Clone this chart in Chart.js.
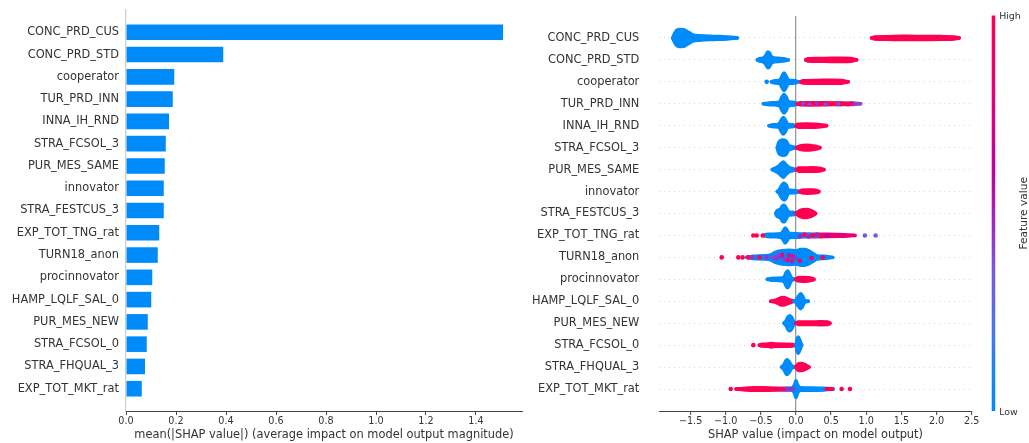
<!DOCTYPE html>
<html>
<head>
<meta charset="utf-8">
<script src="https://cdn.jsdelivr.net/npm/chart.js@4.4.1/dist/chart.umd.min.js"></script>
<style>
  html, body { margin: 0; padding: 0; background: #ffffff; }
  #wrap { position: relative; width: 1029px; height: 443px; overflow: hidden; background: #ffffff; }
  #wrap canvas { position: absolute; top: 0; }
  #bar { left: 0; }
  #swarm { left: 500px; }
</style>
</head>
<body>
<div id="wrap">
  <canvas id="bar" width="535" height="443"></canvas>
  <canvas id="swarm" width="529" height="443"></canvas>
</div>
<script>
// ---- data -------------------------------------------------------------
const features = ['CONC_PRD_CUS', 'CONC_PRD_STD', 'cooperator', 'TUR_PRD_INN', 'INNA_IH_RND',
  'STRA_FCSOL_3', 'PUR_MES_SAME', 'innovator', 'STRA_FESTCUS_3', 'EXP_TOT_TNG_rat',
  'TURN18_anon', 'procinnovator', 'HAMP_LQLF_SAL_0', 'PUR_MES_NEW', 'STRA_FCSOL_0',
  'STRA_FHQUAL_3', 'EXP_TOT_MKT_rat'];

// mean(|SHAP value|) per feature
const meanAbsShap = [1.508, 0.389, 0.193, 0.187, 0.172, 0.159, 0.155, 0.151, 0.151,
  0.133, 0.127, 0.105, 0.101, 0.087, 0.083, 0.076, 0.063];

const barTicks = [0, 0.2, 0.4, 0.6, 0.8, 1.0, 1.2, 1.4];
const swarmTicks = [-1.5, -1.0, -0.5, 0, 0.5, 1.0, 1.5, 2.0, 2.5];

// Beeswarm rows. Each blob is a run of SHAP values sharing one feature-value
// tone (0 = low, 1 = high); outline = [SHAP value, swarm spread in rows].
// Loose dots = [SHAP value, row offset, tone].
const swarmConcPrdCus = {
  blobs: [
    { tone: 0, outline: [[-1.755, 0], [-1.735, 0.15], [-1.70, 0.34], [-1.66, 0.39], [-1.60, 0.38], [-1.555, 0.3], [-1.51, 0.22], [-1.46, 0.13], [-1.37, 0.1], [-1.18, 0.07], [-0.99, 0.045], [-0.88, 0.02], [-0.835, 0]] },
    { tone: 1, outline: [[1.076, 0], [1.12, 0.045], [1.3, 0.06], [1.5, 0.075], [1.7, 0.07], [1.9, 0.07], [2.1, 0.06], [2.25, 0.045], [2.323, 0]] }
  ],
  dots: []
};
const swarmConcPrdStd = {
  blobs: [
    { tone: 0, outline: [[-0.55, 0], [-0.52, 0.05], [-0.47, 0.08], [-0.43, 0.2], [-0.40, 0.36], [-0.38, 0.32], [-0.35, 0.15], [-0.31, 0.09], [-0.24, 0.07], [-0.16, 0.04], [-0.11, 0]] },
    { tone: 1, outline: [[0.138, 0], [0.17, 0.05], [0.3, 0.065], [0.5, 0.07], [0.65, 0.075], [0.78, 0.065], [0.863, 0]] }
  ],
  dots: []
};
const swarmCooperator = {
  blobs: [
    { tone: 0, outline: [[-0.35, 0], [-0.3, 0.05], [-0.23, 0.08], [-0.2, 0.25], [-0.17, 0.4], [-0.14, 0.25], [-0.11, 0.08], [-0.05, 0.06], [0.0, 0.04], [0.035, 0]] },
    { tone: 1, outline: [[0.066, 0], [0.1, 0.055], [0.3, 0.065], [0.5, 0.07], [0.65, 0.06], [0.744, 0]] }
  ],
  dots: [[-0.417, 0, 0]]
};
const swarmTurPrdInn = {
  blobs: [
    { tone: 0, outline: [[-0.465, 0], [-0.4, 0.03], [-0.3, 0.05], [-0.23, 0.1], [-0.2, 0.3], [-0.17, 0.42], [-0.14, 0.3], [-0.11, 0.1], [-0.05, 0.07], [0.01, 0.03], [0.04, 0]] },
    { tone: 0.4, outline: [[0.5, 0], [0.58, 0.03], [0.7, 0.035], [0.82, 0.03], [0.92, 0]] },
    { tone: 1, outline: [[0.02, 0], [0.06, 0.045], [0.2, 0.05], [0.4, 0.045], [0.55, 0.035], [0.66, 0.02], [0.7, 0]] }
  ],
  dots: [[0.1, -0.02, 0.4], [0.19, 0.03, 0.4], [0.3, -0.03, 0.45], [0.42, 0.02, 0.4],
    [0.6, 0, 0.4], [0.74, 0.02, 1], [0.79, -0.01, 1]]
};
const swarmInnaIhRnd = {
  blobs: [
    { tone: 0, outline: [[-0.384, 0], [-0.33, 0.04], [-0.25, 0.06], [-0.21, 0.25], [-0.18, 0.38], [-0.15, 0.25], [-0.12, 0.07], [-0.05, 0.045], [0.0, 0]] },
    { tone: 1, outline: [[0.0, 0], [0.03, 0.07], [0.15, 0.075], [0.25, 0.07], [0.35, 0.05], [0.436, 0]] }
  ],
  dots: []
};
const swarmStraFcsol3 = {
  blobs: [
    { tone: 0, outline: [[-0.266, 0], [-0.25, 0.2], [-0.22, 0.32], [-0.18, 0.35], [-0.14, 0.3], [-0.11, 0.12], [-0.06, 0.05], [0.01, 0]] },
    { tone: 1, outline: [[0.01, 0], [0.04, 0.06], [0.1, 0.1], [0.17, 0.11], [0.24, 0.08], [0.3, 0.05], [0.341, 0]] }
  ],
  dots: []
};
const swarmPurMesSame = {
  blobs: [
    { tone: 0, outline: [[-0.337, 0], [-0.3, 0.06], [-0.25, 0.15], [-0.2, 0.3], [-0.18, 0.35], [-0.15, 0.25], [-0.1, 0.1], [-0.05, 0.05], [0.0, 0]] },
    { tone: 1, outline: [[0.005, 0], [0.04, 0.075], [0.15, 0.075], [0.22, 0.08], [0.3, 0.075], [0.36, 0.045], [0.398, 0]] }
  ],
  dots: []
};
const swarmInnovator = {
  blobs: [
    { tone: 0, outline: [[-0.266, 0], [-0.24, 0.08], [-0.2, 0.3], [-0.17, 0.38], [-0.14, 0.3], [-0.11, 0.07], [-0.02, 0.05], [0.057, 0]] },
    { tone: 1, outline: [[0.05, 0], [0.09, 0.06], [0.16, 0.075], [0.24, 0.07], [0.3, 0.04], [0.327, 0]] }
  ],
  dots: []
};
const swarmStraFestcus3 = {
  blobs: [
    { tone: 0, outline: [[-0.289, 0], [-0.27, 0.12], [-0.22, 0.2], [-0.19, 0.35], [-0.17, 0.38], [-0.15, 0.3], [-0.1, 0.07], [-0.03, 0.05], [0.0, 0]] },
    { tone: 1, outline: [[0.0, 0], [0.03, 0.08], [0.08, 0.16], [0.15, 0.18], [0.22, 0.12], [0.26, 0.05], [0.28, 0]] }
  ],
  dots: []
};
const swarmExpTotTngRat = {
  blobs: [
    { tone: 0.8, outline: [[0.03, 0], [0.1, 0.05], [0.25, 0.055], [0.45, 0.05], [0.6, 0.04], [0.75, 0.02], [0.84, 0]] },
    { tone: 0, outline: [[-0.465, 0], [-0.4, 0.05], [-0.3, 0.06], [-0.22, 0.08], [-0.18, 0.2], [-0.155, 0.34], [-0.13, 0.25], [-0.1, 0.1], [0.0, 0.08], [0.1, 0.06], [0.2, 0.04], [0.32, 0]] }
  ],
  dots: [[-0.607, 0, 1], [-0.56, 0, 1], [-0.474, 0, 1], [0.06, 0.04, 0.5], [0.12, -0.03, 1], [0.18, 0.05, 0.5],
    [0.24, 0, 1], [0.3, -0.04, 0.5], [0.36, 0.03, 1], [0.45, 0, 0.6], [0.98, 0, 0.35], [1.133, 0, 0.35]]
};
const swarmTurn18Anon = {
  blobs: [
    { tone: 0, outline: [[-0.70, 0], [-0.6, 0.05], [-0.45, 0.07], [-0.36, 0.11], [-0.3, 0.22], [-0.2, 0.3], [-0.1, 0.32], [0.0, 0.3], [0.07, 0.36], [0.12, 0.36], [0.18, 0.3], [0.25, 0.16], [0.3, 0.07], [0.4, 0.05], [0.522, 0]] }
  ],
  dots: [[-1.057, 0, 1], [-0.82, 0, 1], [-0.759, 0, 1], [-0.68, 0, 1], [-0.52, 0, 1], [-0.2, -0.12, 1],
    [-0.12, 0.12, 1], [-0.05, -0.05, 1], [0.05, 0.15, 0.9], [0.22, 0.03, 1], [0.38, 0, 1],
    [-0.62, 0, 0.45], [-0.42, 0, 0.45], [-0.28, 0.05, 0.45], [-0.22, -0.05, 0.5], [-0.16, 0.08, 0.45],
    [-0.1, -0.1, 0.5], [-0.06, 0.18, 0.5], [-0.02, 0.02, 0.45], [-0.25, -0.12, 0.4], [-0.33, 0, 0.4]]
};
const swarmProcinnovator = {
  blobs: [
    { tone: 0, outline: [[-0.408, 0], [-0.35, 0.04], [-0.25, 0.05], [-0.17, 0.1], [-0.14, 0.3], [-0.12, 0.38], [-0.1, 0.3], [-0.07, 0.08], [0.0, 0]] },
    { tone: 1, outline: [[0.0, 0], [0.03, 0.07], [0.1, 0.085], [0.17, 0.075], [0.22, 0.05], [0.256, 0]] }
  ],
  dots: []
};
const swarmHampLqlfSal0 = {
  blobs: [
    { tone: 1, outline: [[-0.36, 0], [-0.3, 0.04], [-0.24, 0.12], [-0.2, 0.17], [-0.16, 0.16], [-0.1, 0.08], [-0.03, 0]] },
    { tone: 0, outline: [[-0.03, 0], [0.0, 0.05], [0.04, 0.25], [0.066, 0.34], [0.09, 0.25], [0.12, 0.06], [0.175, 0]] }
  ],
  dots: []
};
const swarmPurMesNew = {
  blobs: [
    { tone: 0, outline: [[-0.171, 0], [-0.14, 0.12], [-0.11, 0.3], [-0.085, 0.34], [-0.06, 0.25], [-0.03, 0.05], [0.0, 0]] },
    { tone: 1, outline: [[0.0, 0], [0.03, 0.055], [0.2, 0.055], [0.35, 0.065], [0.45, 0.06], [0.484, 0]] }
  ],
  dots: []
};
const swarmStraFcsol0 = {
  blobs: [
    { tone: 1, outline: [[-0.522, 0], [-0.48, 0.04], [-0.4, 0.05], [-0.35, 0.08], [-0.3, 0.05], [-0.15, 0.045], [-0.05, 0.035], [-0.014, 0]] },
    { tone: 0, outline: [[0.0, 0], [0.015, 0.25], [0.033, 0.37], [0.05, 0.25], [0.081, 0]] }
  ],
  dots: [[-0.607, 0, 1]]
};
const swarmStraFhqual3 = {
  blobs: [
    { tone: 0, outline: [[-0.204, 0], [-0.17, 0.12], [-0.13, 0.34], [-0.1, 0.25], [-0.06, 0.05], [0.0, 0]] },
    { tone: 1, outline: [[0.0, 0], [0.03, 0.14], [0.07, 0.16], [0.12, 0.12], [0.16, 0.05], [0.185, 0]] }
  ],
  dots: []
};
const swarmExpTotMktRat = {
  blobs: [
    { tone: 0, outline: [[-0.3, 0], [-0.15, 0.03], [-0.05, 0.06], [-0.02, 0.2], [0.0, 0.38], [0.02, 0.2], [0.06, 0.06], [0.2, 0.05], [0.4, 0.04], [0.53, 0]] },
    { tone: 0.45, outline: [[-0.35, 0], [-0.3, 0.03], [-0.2, 0.04], [-0.1, 0.03], [-0.04, 0]] },
    { tone: 1, outline: [[-0.853, 0], [-0.75, 0.03], [-0.6, 0.06], [-0.45, 0.06], [-0.3, 0.04], [-0.18, 0]] }
  ],
  dots: [[-0.929, 0, 1], [0.44, 0, 1], [0.48, 0, 1], [0.507, 0, 1], [0.65, 0, 1], [0.768, 0, 1]]
};

const swarmRows = [swarmConcPrdCus, swarmConcPrdStd, swarmCooperator, swarmTurPrdInn, swarmInnaIhRnd,
  swarmStraFcsol3, swarmPurMesSame, swarmInnovator, swarmStraFestcus3, swarmExpTotTngRat,
  swarmTurn18Anon, swarmProcinnovator, swarmHampLqlfSal0, swarmPurMesNew, swarmStraFcsol0,
  swarmStraFhqual3, swarmExpTotMktRat];

// ---- styling ----------------------------------------------------------
const FONT = "'DejaVu Sans', 'Liberation Sans', sans-serif";
const TEXT = '#333333';
const SHAP_BLUE = '#008bfb';
const AXIS = '#444444';

// low -> high feature value colour ramp
const toneStops = [
  [0, [0, 139, 251]], [0.1, [24, 132, 248]], [0.2, [69, 117, 242]], [0.35, [124, 88, 224]],
  [0.45, [154, 48, 200]], [0.6, [192, 0, 159]], [0.8, [230, 0, 122]], [1, [255, 0, 82]]
];
function toneColor(t) {
  for (let i = 1; i < toneStops.length; i++) {
    const [t1, c1] = toneStops[i];
    if (t <= t1) {
      const [t0, c0] = toneStops[i - 1];
      const f = (t - t0) / (t1 - t0);
      const c = c0.map((v, k) => Math.round(v + (c1[k] - v) * f));
      return `rgb(${c[0]},${c[1]},${c[2]})`;
    }
  }
  const c = toneStops[toneStops.length - 1][1];
  return `rgb(${c[0]},${c[1]},${c[2]})`;
}

Chart.defaults.font.family = FONT;
Chart.defaults.color = TEXT;

const signed = v => (v < 0 ? '\u2212' : '') + Math.abs(v).toFixed(1);
// keep the plot area exactly where the layout padding puts it
const noLabelPadding = s => { s.paddingTop = 0; s.paddingBottom = 0; s.paddingLeft = 0; s.paddingRight = 0; };

// ---- left: mean |SHAP| bars --------------------------------------------
new Chart(document.getElementById('bar'), {
  type: 'bar',
  data: {
    datasets: [{
      data: features.map((f, i) => ({ x: meanAbsShap[i], y: i })),
      backgroundColor: SHAP_BLUE,
      borderWidth: 0,
      barPercentage: 0.7,
      categoryPercentage: 1
    }]
  },
  options: {
    indexAxis: 'y',
    responsive: false,
    animation: false,
    devicePixelRatio: 1,
    layout: { padding: { top: 10, right: 13, bottom: 0, left: 0 } },
    plugins: { legend: { display: false }, tooltip: { enabled: false } },
    scales: {
      x: {
        type: 'linear', min: 0, max: 1.584, offset: false,
        afterBuildTicks: s => { s.ticks = barTicks.map(v => ({ value: v })); },
        afterFit: s => { s.height = 32; noLabelPadding(s); },
        ticks: { callback: v => v.toFixed(1), font: { size: 9.65 }, color: TEXT, padding: 1, maxRotation: 0, autoSkip: false },
        grid: { drawOnChartArea: false, drawTicks: true, tickLength: 4, tickColor: AXIS, tickWidth: 1, offset: false },
        border: { color: AXIS, width: 1 },
        title: {
          display: true,
          text: 'mean(|SHAP value|) (average impact on model output magnitude)',
          font: { size: 11.4 }, color: TEXT, padding: { top: 0, bottom: 1 }
        }
      },
      y: {
        type: 'linear', min: -1, max: 17, reverse: true, offset: false,
        afterBuildTicks: s => { s.ticks = features.map((f, i) => ({ value: i })); },
        afterFit: s => { s.width = 126; noLabelPadding(s); },
        ticks: { callback: v => features[v], font: { size: 11.4 }, color: TEXT, padding: 7, autoSkip: false },
        grid: { display: false, drawTicks: false, offset: false },
        border: { color: '#cccccc', width: 1.2 }
      }
    }
  }
});

// ---- right: SHAP value beeswarm ----------------------------------------
const swarmDatasets = [];
swarmRows.forEach((row, r) => {
  row.blobs.forEach(b => {
    const col = toneColor(b.tone);
    const edge = {
      showLine: true, pointRadius: 0, borderColor: col, backgroundColor: col,
      borderWidth: 3.5, borderCapStyle: 'round', borderJoinStyle: 'round',
      cubicInterpolationMode: 'monotone'
    };
    swarmDatasets.push(Object.assign({}, edge, { data: b.outline.map(([v, s]) => ({ x: v, y: r - s })), fill: false }));
    swarmDatasets.push(Object.assign({}, edge, { data: b.outline.map(([v, s]) => ({ x: v, y: r + s })), fill: '-1' }));
  });
  if (row.dots.length) {
    swarmDatasets.push({
      showLine: false,
      data: row.dots.map(([v, o, t]) => ({ x: v, y: r + o, t })),
      pointRadius: 2.3, pointBorderWidth: 0,
      pointBackgroundColor: c => toneColor(c.raw ? c.raw.t : 0)
    });
  }
});
// later datasets paint on top
swarmDatasets.forEach((d, k) => { d.order = -k; });

const colorBarPlugin = {
  id: 'featureColorBar',
  afterDraw(chart) {
    const { ctx, chartArea } = chart;
    const x = chartArea.right + 20, w = 3.5;
    const top = chartArea.top - 0.5, bottom = chartArea.bottom;
    const g = ctx.createLinearGradient(0, bottom, 0, top);
    toneStops.forEach(([t, c]) => g.addColorStop(t, `rgb(${c[0]},${c[1]},${c[2]})`));
    ctx.save();
    ctx.fillStyle = g;
    ctx.fillRect(x, top, w, bottom - top);
    ctx.fillStyle = TEXT;
    ctx.textAlign = 'left';
    ctx.textBaseline = 'middle';
    ctx.font = `9.4px ${FONT}`;
    ctx.fillText('High', x + 7.5, top + 1);
    ctx.fillText('Low', x + 7.5, bottom + 1.5);
    ctx.translate(x + 33, (top + bottom) / 2);
    ctx.rotate(-Math.PI / 2);
    ctx.textAlign = 'center';
    ctx.font = `10.6px ${FONT}`;
    ctx.fillText('Feature value', 0, 0);
    ctx.restore();
  }
};

new Chart(document.getElementById('swarm'), {
  type: 'scatter',
  data: { datasets: swarmDatasets },
  options: {
    responsive: false,
    animation: false,
    devicePixelRatio: 1,
    layout: { padding: { top: 16, right: 57.3, bottom: 0, left: 0 } },
    plugins: { legend: { display: false }, tooltip: { enabled: false } },
    scales: {
      x: {
        type: 'linear', min: -1.945, max: 2.5,
        afterBuildTicks: s => { s.ticks = swarmTicks.map(v => ({ value: v })); },
        afterFit: s => { s.height = 32; noLabelPadding(s); },
        ticks: { callback: v => signed(v), font: { size: 9.65 }, color: TEXT, padding: 1, maxRotation: 0, autoSkip: false },
        grid: {
          color: c => (c.tick && c.tick.value === 0 ? '#999999' : 'rgba(0,0,0,0)'),
          lineWidth: 1.3, drawOnChartArea: true, drawTicks: true, tickLength: 4, tickColor: AXIS, tickWidth: 1
        },
        border: { color: AXIS, width: 1 },
        title: {
          display: true, text: 'SHAP value (impact on model output)',
          font: { size: 11.4 }, color: TEXT, padding: { top: 0, bottom: 1 }
        }
      },
      y: {
        type: 'linear', min: -1, max: 17, reverse: true,
        afterBuildTicks: s => { s.ticks = features.map((f, i) => ({ value: i })); },
        afterFit: s => { s.width = 159.3; noLabelPadding(s); },
        ticks: { callback: v => features[v], font: { size: 11.4 }, color: TEXT, padding: 20, autoSkip: false },
        grid: { color: '#cccccc', lineWidth: 0.8, drawTicks: false },
        border: { display: false, dash: [1, 4] }
      }
    }
  },
  plugins: [colorBarPlugin]
});
</script>
</body>
</html>
